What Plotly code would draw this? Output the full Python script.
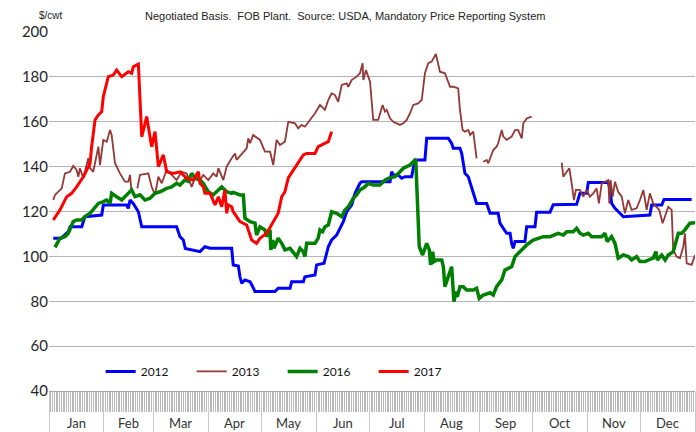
import plotly.graph_objects as go

# ---------------- data (x = day of year, y = $/cwt) ----------------
months = ["Jan", "Feb", "Mar", "Apr", "May", "Jun", "Jul", "Aug", "Sep", "Oct", "Nov", "Dec"]
month_bounds = [0, 31, 59, 90, 120, 151, 181, 212, 243, 273, 304, 334, 365]
y_ticks = [40, 60, 80, 100, 120, 140, 160, 180, 200]

series_names = ["2012", "2013", "2016", "2017"]

pts_2012 = [(2.4,108.1),(7,108.1),(10.9,111),(11.9,113.2),(18.5,113.2),(19.4,115.5),(20.3,117.7),(29.8,118.4),
    (30.7,122.9),(43.9,122.9),(44.8,121.4),(45.8,125.1),(47.6,123.6),(50.5,119.9),(52.4,113.2),(72.1,113.2),
    (74,108.8),(75.9,107.3),(77,103.5),(85.3,102.1),(88.1,104.3),(91,103.6),(103.2,103.6),(104.1,96.2),(107,95.7),
    (107.9,90.9),(108.9,88),(110.7,89.5),(113.6,88.7),(115.1,86.5),(116.4,84.3),(127.7,84.3),(129.5,85.8),
    (136.2,85.8),(137.1,88.7),(143.7,88.7),(144.6,90.9),(150.3,91.7),(151.2,96.2),(155.4,96.9),(156.5,99.9),
    (157.8,104.3),(159.7,107.3),(162.5,109.5),(164.4,112.5),(166.3,115.5),(168.2,119.9),(171,122.9),(172.9,128.1),
    (175.7,132.6),(176.7,133.3),(192.7,133.3),(193.6,137.7),(194.5,136.3),(197.3,136.3),(199.3,134.8),(201.1,135.5),
    (204.9,135.5),(205.8,139.3),(206.8,143),(212.4,143),(213.4,152.6),(225.6,152.6),(227.5,150.4),(228.4,148.2),
    (232.2,148.2),(233.2,145.9),(235,137),(236.9,135.5),(238.8,131),(240.7,125.9),(241.6,123.6),(247.3,123.6),
    (249.2,119.2),(253.8,119.2),(254.8,114.8),(256.7,112.5),(258.6,110.3),(260.5,110.3),(261.4,105.8),(262.3,103.6),
    (263.3,106.6),(268.9,106.6),(269.9,113.2),(274.6,113.2),(275.5,119.7),(283.1,119.7),(284.9,123),(298.1,123.2),
    (300,128.1),(303.8,128.1),(304.7,132.9),(316,132.9),(316.9,130.3),(317.9,123.6),(319.8,121.4),(322.6,119.2),
    (324.5,117.7),(339.5,118.4),(340.5,122.9),(346.2,122.9),(347.5,125.4),(363.1,125.4)]

pts_2013 = [(2.4,125.1),(3.4,127.4),(7.2,130.3),(9,137),(11.9,137.7),(13.7,140.3),(15.6,138.5),(16.6,135.5),
    (17.5,139.3),(19.4,134.8),(22.2,143.7),(23.2,139.3),(25,137.7),(27.9,148.9),(28.8,140.7),(30.7,151.9),
    (32.6,151.1),(34.5,156.3),(35.4,154.1),(37.3,141.5),(40.1,137),(42.9,133.3),(44.8,133.3),(45.8,136.3),(46.5,130),
    (48, None),
    (49.9,130.3),(51.4,136.3),(56.1,137),(58,131),(59.9,127.4),(61.8,135.5),(63.7,132.6),(66.5,138.5),(69.3,136.3),
    (72.1,134),(75,137.7),(77.8,137),(80.6,131),(83.4,137),(85.3,134),(87.2,136.3),(90,134),(92.8,137),(94.7,135.5),
    (95.7,139.3),(98.5,134),(100.4,140),(103.2,143.7),(105.1,145.9),(106,143),(108.9,145.9),(111.7,148.2),
    (112.6,152.6),(113.6,150.4),(115.4,154.1),(119.2,151.9),(122,146.7),(124.9,146.7),(126.7,140.7),(128.6,151.9),
    (130.5,149.6),(133.3,151.1),(135.2,160),(139,159.3),(140.8,157.1),(142.8,158.6),(144.6,157.8),(147.5,160.8),
    (150.3,163.8),(153.1,167.5),(155.9,165.3),(157.8,169.7),(159.7,172.7),(161.6,171.9),(163.4,168.9),(165.4,176.4),
    (168.2,177.1),(169.1,175.6),(171,178.6),(173.8,180.1),(175.7,181.6),(177.2,186.1),(177.6,178.6),(179.1,183),
    (181.4,177.9),(183.2,160.8),(186,160.8),(188.5,167.5),(189.8,164.5),(190.8,165.3),(192.7,161.5),(194.5,160),
    (198.3,158.6),(200.2,159.3),(202.1,160.8),(204,163.8),(205.8,167.5),(208.6,168.2),(210.6,169.7),(212.4,181.6),
    (214.3,186.1),(216.2,186.8),(218.6,190.2),(220.9,182.3),(223.7,181.6),(226.6,175.6),(228.4,175.6),(231.2,174.9),
    (232.2,165.3),(233.7,156.3),(235,155.6),(236.9,156.3),(237.9,154.1),(239.7,155.6),(241.6,143.7),
    (243.5, None),
    (245.4,142.2),(247.3,143),(248.2,141.5),(251,147.4),(252.9,148.9),(253.8,150.4),(255.8,156.3),(256.7,153.4),
    (258.6,151.9),(261.4,153.4),(263.3,156.3),(265.1,156.3),(267.1,152.6),(268,159.3),(269.9,161.5),(272.7,162.3),
    (280, None),
    (289.7,141.8),(290.6,135.5),(292.5,137.7),(294,139.3),(295.3,132.6),(296.6,125.1),(297.7,129.6),(300,129.6),
    (301.9,126.6),(303.8,129.6),(305.6,126.6),(307.5,128.1),(309.4,130.3),(310.7,123.6),(312.3,132.6),(314.1,133.3),
    (316,134),(316.6,123.6),(317.3,134),(318.5,126.6),(319.8,133.3),(321.6,128.8),(323.6,126.6),(325.4,119.2),
    (327.3,125.1),(329.2,120.7),(332,121.4),(333.9,125.1),(335.8,129.6),(337.7,120.7),(339.5,128.1),(341.4,123.6),
    (342.9,122.1),(344.8,120.7),(346.7,114.8),(348.1,118),(349.9,122.1),(351.8,120.7),(352.7,102.9),(354.6,99.9),
    (356.5,99.2),(358.4,104.3),(359.3,110.3),(360.3,96.9),(363.1,96.2),(365,100.6)]

pts_2016 = [(3.4,104),(5.3,107.3),(6.2,108.1),(9,108.8),(10.9,110.3),(13.7,115.5),(15.6,116.2),(18.5,116.2),
    (20.3,117.7),(23.2,119.2),(26,122.1),(27.9,123.6),(30.7,124.4),(32.6,125.1),(34.5,123.6),(35.4,128.1),
    (38.2,126.6),(41.1,125.1),(43.9,127.4),(46.7,129.6),(48.6,126.6),(51.4,127.4),(54.2,125.1),(57.1,125.9),
    (59.9,128.1),(62.7,128.8),(66.5,130.3),(69.3,131),(72.1,132.6),(74,131.8),(76.8,134),(78.7,133.5),(80.6,137),
    (82.5,134.8),(85.3,134),(87.2,132.6),(90,128.8),(92.8,127.4),(95.7,129.6),(97.6,131),(100.4,128.8),(103.2,128.1),
    (104.1,128.5),(107.9,127.4),(109.8,127.4),(110.7,117),(113.6,115.5),(116.4,114.8),(117.3,109.5),(119.2,113.2),
    (122,111.8),(123,108.8),(124.9,111.8),(125.3,102.9),(126.4,107.3),(127.1,103.6),(129.5,108.1),(131.5,105.8),
    (133.3,102.9),(136.2,103.6),(139.9,99.9),(141.8,103.6),(143.7,102.1),(144.6,99.9),(145.6,105.8),(150.3,105.8),
    (152.1,108.1),(153.1,111.8),(154.6,111),(155.9,113.2),(157.8,114),(159.7,119.9),(162.5,119.2),(165.4,117.7),
    (167.2,120.7),(169.1,122.1),(171.9,125.9),(173.8,127.4),(175.7,129.6),(178.5,131),(180.4,132.6),(183.2,131.8),
    (187,131.8),(188.9,133.3),(189.8,134),(191.7,134.8),(195.5,135.5),(198.3,137.7),(200.2,139.3),(202.1,140),
    (204,140.7),(205.8,142.2),(207.2,143.3),(209.2,104.3),(210,102.9),(211.1,100.6),(213.4,105.8),(214.9,102.9),
    (215.6,96.2),(216.8,102.1),(217.5,97.7),(219,98.4),(221.9,98.4),(222.8,95.4),(223.7,86.5),(225.6,90.9),
    (227.5,95.4),(228.8,79.8),(230,84.3),(230.7,82),(232.2,86.5),(234.1,86.5),(236,85),(239.7,85),(241.6,85.8),
    (243.1,81.3),(245.4,82.8),(249.2,83.8),(251,82.8),(252.9,86.5),(255.8,89.5),(257.6,93.9),(259.5,94.7),
    (261.4,95.4),(263.3,99.9),(266.1,102.1),(269.9,105.1),(273.6,107.3),(277.4,108.1),(279.3,108.8),(283.1,108.8),
    (284.9,109.5),(287.7,110.3),(290.6,109.5),(292.5,111),(296.2,111),(298.1,112.5),(300,110.3),(301.9,109.5),
    (304.7,110.3),(306.6,108.8),(312.3,108.8),(314.1,110.3),(315.4,106.6),(317.9,108.8),(319.8,105.8),(321.6,99.2),
    (324.5,100.6),(327.3,99.9),(329.2,98.4),(332,99.9),(333.9,97.7),(336.7,97.7),(339.5,98.7),(341.4,99.2),
    (342.9,102.1),(343.7,98.4),(346.2,100.6),(348.1,98.4),(349.9,100.6),(352.7,102.1),(355.6,110.3),(357.5,110.3),
    (359.3,111.8),(362.1,114.8),(365,115)]

pts_2017 = [(2.4,116.2),(6.2,120.7),(10,126.6),(12.8,128.1),(15.6,131),(19.4,135.5),(23.2,141.5),(24.1,148.9),
    (26,160.8),(27.9,163),(29.8,164.5),(30.7,171.2),(33.5,180.1),(36.3,180.8),(38.2,183),(41.1,180.1),(44.8,182.3),
    (46.7,181.6),(47.6,184.5),(50.5,185.7),(52.4,153.3),(55.2,162.3),(58,148.9),(59.9,155.6),(61.8,140),(64.6,145.2),
    (66.5,137.7),(70.2,137),(74,137.7),(77.8,134.8),(81.5,134),(84.4,137.7),(85.3,132.6),(87.2,131),(88.1,128.1),
    (91,128.1),(93.8,122.9),(95.7,126.6),(97.6,122.1),(99.4,129.6),(100.4,119.2),(101.3,122.9),(103.2,122.1),
    (104.1,119.9),(106,117.7),(107.9,115.5),(111.7,114),(114.5,107.3),(117.3,105.8),(119.2,108.1),(123,110.3),
    (125.8,114),(129.5,119.2),(131.5,126.6),(133.3,128.8),(135.2,135),(138,138.5),(140.8,141.5),(143.7,145.2),
    (145.6,145.9),(150.3,145.9),(152.1,148.9),(155.9,150.4),(157.8,151.1),(159.7,155.6)]

series_points = [pts_2012, pts_2013, pts_2016, pts_2017]
series_colors = ["#0000ff", "#953735", "#008000", "#ff0000"]
series_widths = [3, 1.8, 3.5, 3]

# ---------------- figure ----------------
fig = go.Figure()
for name, pts, col, w in zip(series_names, series_points, series_colors, series_widths):
    fig.add_trace(go.Scatter(
        x=[p[0] for p in pts], y=[p[1] for p in pts], name=name, mode="lines",
        line=dict(color=col, width=w), connectgaps=False,
    ))

font_main = "Lato, 'Open Sans', sans-serif"
font_narrow = "'Liberation Sans Narrow', 'Arial Narrow', 'Liberation Sans', sans-serif"

month_centers = [(month_bounds[i] + month_bounds[i + 1]) / 2 for i in range(12)]
annotations = []
for m, c in zip(months, month_centers):
    annotations.append(dict(x=c, y=-0.089, xref="x", yref="paper", text=m, showarrow=False,
                            xanchor="center", yanchor="middle",
                            font=dict(family=font_main, size=13, color="#333333")))
annotations.append(dict(x=-0.019, y=1.045, xref="paper", yref="paper", text="$/cwt", showarrow=False,
                        xanchor="left", yanchor="middle", font=dict(family=font_narrow, size=10, color="#222")))
annotations.append(dict(x=0.1455, y=1.045, xref="paper", yref="paper",
                        text="Negotiated Basis.  FOB Plant.  Source: USDA, Mandatory Price Reporting System",
                        showarrow=False, xanchor="left", yanchor="middle",
                        font=dict(family=font_narrow, size=11, color="#222")))

fig.update_layout(
    width=696, height=432,
    margin=dict(l=49, r=1, t=32, b=41, autoexpand=False),
    paper_bgcolor="white", plot_bgcolor="white",
    showlegend=True,
    legend=dict(orientation="h", x=0.08, y=0.095, xanchor="left", yanchor="top",
                entrywidth=46, entrywidthmode="pixels", bgcolor="rgba(0,0,0,0)",
                font=dict(family=font_main, size=12, color="#111")),
    annotations=annotations,
    xaxis=dict(range=[0, 365], showgrid=False, zeroline=False, automargin=False,
               tickmode="array", tickvals=month_bounds, ticktext=[""] * len(month_bounds),
               ticks="outside", ticklen=41, tickcolor="#c8c8c8", tickwidth=1,
               showline=True, linecolor="#a6a6a6", linewidth=1,
               minor=dict(ticks="outside", ticklen=20, dtick=1, tick0=0, tickcolor="#b8b8b8", tickwidth=1)),
    yaxis=dict(range=[40, 200], tickmode="array", tickvals=y_ticks, automargin=False,
               showgrid=True, gridcolor="#b5b5b5", gridwidth=1.3, zeroline=False,
               ticks="", tickfont=dict(family=font_main, size=15, color="#262626")),
)

fig.write_html("out.html", config={"displayModeBar": False},
               post_script="document.body.style.margin='0px';")
